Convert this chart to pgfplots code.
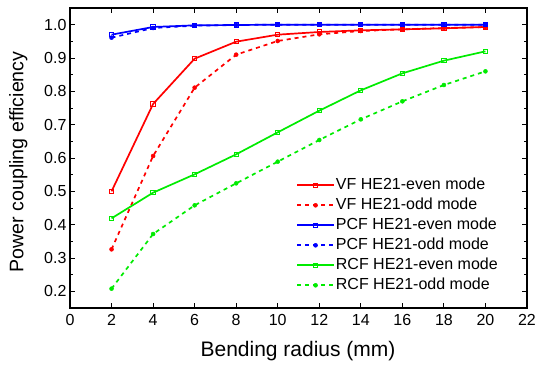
\documentclass[border=0pt]{standalone}
\usepackage{fontspec}
\setmainfont{Liberation Sans}
\usepackage{pgfplots}
\pgfplotsset{compat=1.18}
\definecolor{cred}{RGB}{255,0,0}
\definecolor{cblue}{RGB}{0,0,255}
\definecolor{cgreen}{RGB}{0,235,0}
\begin{document}
\begin{tikzpicture}
\begin{axis}[
  scale only axis,
  width=457pt, height=300pt,
  xmin=0, xmax=22, ymin=0.15, ymax=1.05,
  xtick={0,2,...,22},
  ytick={0.2,0.3,0.4,0.5,0.6,0.7,0.8,0.9,1.0},
  minor y tick num=1,
  tick align=inside,
  major tick length=5pt,
  minor tick length=3pt,
  axis line style={line width=1.3pt},
  tick style={black, line width=0.9pt},
  tick label style={font=\fontsize{16}{19}\selectfont},
  xticklabel style={yshift=-2.5pt},
  /pgf/number format/assume math mode=true,
  yticklabel style={/pgf/number format/fixed, /pgf/number format/zerofill, /pgf/number format/precision=1},
  xlabel={Bending radius (mm)},
  ylabel={Power coupling efficiency},
  xlabel style={font=\fontsize{21}{25}\selectfont, at={(axis description cs:0.499,-0.162)}, anchor=base},
  ylabel style={font=\fontsize{19.6}{23}\selectfont, at={(axis description cs:-0.0853,0.487)}, anchor=south},
  legend cell align=left,
  legend style={draw=none, fill=none, at={(axis description cs:0.488,0.443)}, anchor=north west,
    font=\fontsize{16}{19}\selectfont, row sep=4pt,
    nodes={inner sep=1pt, text height=11pt, text depth=3pt}},
  legend image code/.code={\draw[mark repeat=2,mark phase=2,#1] plot coordinates {(0cm,0cm) (0.65cm,0cm) (1.3cm,0cm)};},
]
\addplot[cred, line width=1.7pt, mark=square, mark size=2.1pt, mark options={solid, line width=1pt, fill=white}] coordinates {
(2,0.500)(4,0.762)(6,0.898)(8,0.949)(10,0.970)(12,0.978)(14,0.983)(16,0.986)(18,0.989)(20,0.993)};
\addlegendentry{VF HE21-even mode}
\addplot[cred, line width=1.7pt, dash pattern=on 4pt off 4pt, mark=*, mark size=2pt, mark options={solid, line width=0.5pt}] coordinates {
(2,0.326)(4,0.606)(6,0.811)(8,0.910)(10,0.951)(12,0.971)(14,0.981)(16,0.986)(18,0.990)(20,0.993)};
\addlegendentry{VF HE21-odd mode}
\addplot[cblue, line width=1.7pt, mark=square, mark size=2.1pt, mark options={solid, line width=1pt, fill=white}] coordinates {
(2,0.970)(4,0.993)(6,0.998)(8,0.999)(10,1.000)(12,1.000)(14,1.000)(16,1.000)(18,1.000)(20,1.000)};
\addlegendentry{PCF HE21-even mode}
\addplot[cblue, line width=1.7pt, dash pattern=on 4pt off 4pt, mark=*, mark size=2pt, mark options={solid, line width=0.5pt}] coordinates {
(2,0.961)(4,0.990)(6,0.997)(8,0.999)(10,1.000)(12,1.000)(14,1.000)(16,1.000)(18,1.000)(20,1.000)};
\addlegendentry{PCF HE21-odd mode}
\addplot[cgreen, line width=1.7pt, mark=square, mark size=2.1pt, mark options={solid, line width=1pt, fill=white}] coordinates {
(2,0.419)(4,0.496)(6,0.551)(8,0.611)(10,0.677)(12,0.742)(14,0.803)(16,0.854)(18,0.892)(20,0.920)};
\addlegendentry{RCF HE21-even mode}
\addplot[cgreen, line width=1.7pt, dash pattern=on 4pt off 4pt, mark=*, mark size=2pt, mark options={solid, line width=0.5pt}] coordinates {
(2,0.208)(4,0.372)(6,0.458)(8,0.524)(10,0.589)(12,0.654)(14,0.716)(16,0.770)(18,0.819)(20,0.860)};
\addlegendentry{RCF HE21-odd mode}
\end{axis}
\pgfresetboundingbox
\path (-70pt,-61pt) rectangle (480pt,308pt);
\end{tikzpicture}
\end{document}
